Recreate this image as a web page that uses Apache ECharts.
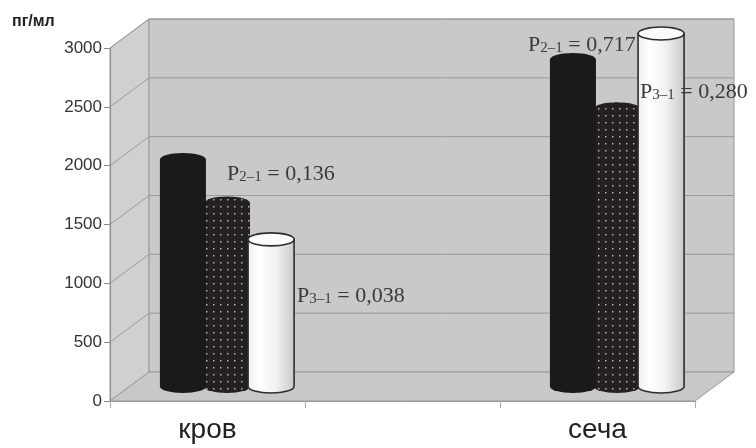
<!DOCTYPE html>
<html><head><meta charset="utf-8">
<script src="https://cdn.jsdelivr.net/npm/echarts@6/dist/echarts.min.js"></script>
<style>html,body{margin:0;padding:0;background:#fff}#c{width:756px;height:448px}</style>
</head><body><div id="c"></div>
<script>
// ---- data ----
const categories = ['кров', '', 'сеча'];
const seriesBlack = [1930, null, 2780];
const seriesDotted = [1560, null, 2360];
const seriesWhite = [1250, null, 3000];
const yTicks = [0, 500, 1000, 1500, 2000, 2500, 3000];
const unitLabel = 'пг/мл';
const annotationSubs = ['2–1', '3–1', '2–1', '3–1'];
const annotationValues = ['0,136', '0,038', '0,717', '0,280'];

// ---- geometry / style constants ----
const DX = 39, DY = -29;
const chart = echarts.init(document.getElementById('c'), null, {renderer: 'canvas'});

const pc = document.createElement('canvas');
pc.width = 7; pc.height = 7;
const g = pc.getContext('2d');
g.fillStyle = '#242020'; g.fillRect(0, 0, 7, 7);
g.fillStyle = '#b4b4b4'; g.fillRect(3, 3, 1.5, 1.5);
const dotPattern = {image: pc, repeat: 'repeat'};

function toData(arr) {
  const out = [];
  arr.forEach((v, i) => { if (v != null) out.push([i, v]); });
  return out;
}

function renderFrame(params, api) {
  const cs = params.coordSys;
  const x0 = cs.x, x1 = cs.x + cs.width;
  const yb = api.coord([0, yTicks[0]])[1];
  const yt = api.coord([0, yTicks[yTicks.length - 1]])[1];
  const edge = '#9a9a9a';
  const children = [
    {type: 'polygon', shape: {points: [[x0, yb], [x0, yt], [x0 + DX, yt + DY], [x0 + DX, yb + DY]]},
     style: {fill: '#d0d0d0', stroke: edge, lineWidth: 1}},
    {type: 'rect', shape: {x: x0 + DX, y: yt + DY, width: x1 - x0, height: yb - yt},
     style: {fill: '#c9c9c9', stroke: edge, lineWidth: 1}},
    {type: 'polygon', shape: {points: [[x0, yb], [x1, yb], [x1 + DX, yb + DY], [x0 + DX, yb + DY]]},
     style: {fill: '#c8c8c8', stroke: edge, lineWidth: 1}}
  ];
  yTicks.forEach(v => {
    if (v === yTicks[0]) return;
    const y = api.coord([0, v])[1];
    children.push({type: 'polyline', shape: {points: [[x0, y], [x0 + DX, y + DY], [x1 + DX, y + DY]]},
      style: {stroke: edge, lineWidth: 1, fill: null}});
  });
  return {type: 'group', children};
}

function cylinder(kind, idx) {
  return function (params, api) {
    const cat = api.value(0), v = api.value(1);
    const top = api.coord([cat, v]);
    const base = api.coord([cat, 0]);
    const band = api.size([1, 0])[0];
    const cx = top[0] + (idx - 1) * band * 0.226 + DX / 2;
    const rx = band * 0.118, ry = 6.5;
    const yt = top[1] + DY / 2, yb = base[1] + DY / 2;
    const path = 'M' + (cx - rx) + ',' + yt + ' L' + (cx - rx) + ',' + yb +
      ' A' + rx + ',' + ry + ' 0 0 0 ' + (cx + rx) + ',' + yb +
      ' L' + (cx + rx) + ',' + yt + ' Z';
    let bodyStyle, topStyle;
    if (kind === 'black') {
      bodyStyle = {fill: '#1c1919'};
      topStyle = {fill: '#1c1919'};
    } else if (kind === 'dotted') {
      bodyStyle = {fill: dotPattern};
      topStyle = {fill: dotPattern};
    } else {
      bodyStyle = {fill: {type: 'linear', x: 0, y: 0, x2: 1, y2: 0, colorStops: [
        {offset: 0, color: '#eeeeee'}, {offset: 0.25, color: '#ffffff'}, {offset: 0.6, color: '#f2f2f2'}, {offset: 1, color: '#c8c8c8'}]},
        stroke: '#2e2e2e', lineWidth: 1.6};
      topStyle = {fill: '#fbfbfb', stroke: '#2e2e2e', lineWidth: 1.6};
    }
    return {type: 'group', children: [
      {type: 'path', shape: {pathData: path}, style: bodyStyle},
      {type: 'ellipse', shape: {cx: cx, cy: yt, rx: rx, ry: ry}, style: topStyle}
    ]};
  };
}

const serif = '"Liberation Serif", "DejaVu Serif", serif';
const annPos = [[227, 174], [297, 296], [528, 45], [640, 92]];
const annGraphics = annotationValues.map((val, i) => ({
  type: 'text', x: annPos[i][0], y: annPos[i][1], z: 100,
  style: {
    text: '{p|P}{s|' + annotationSubs[i] + '}{p| = ' + val + '}',
    verticalAlign: 'middle', align: 'left',
    rich: {
      p: {fontSize: 22, fontFamily: serif, fill: '#3a3a3a', color: '#3a3a3a', lineHeight: 26, verticalAlign: 'middle'},
      s: {fontSize: 15, fontFamily: serif, fill: '#3a3a3a', color: '#3a3a3a', lineHeight: 15, padding: [7, 0, 0, 0]}
    }
  }
}));

const option = {
  animation: false,
  backgroundColor: '#ffffff',
  grid: {left: 110, right: 61, top: 48, bottom: 47, containLabel: false},
  xAxis: {
    type: 'category', data: categories, boundaryGap: true, z: 5,
    axisLine: {lineStyle: {color: '#999999', width: 1}},
    axisTick: {show: true, length: 7, lineStyle: {color: '#aaaaaa'}},
    axisLabel: {fontSize: 28, color: '#222222', margin: 15, fontFamily: '"Liberation Sans", Arial, sans-serif'},
    splitLine: {show: false}
  },
  yAxis: {
    type: 'value', min: 0, max: 3000, interval: 500, z: 5,
    axisLine: {show: true, lineStyle: {color: '#8a8a8a'}},
    axisTick: {show: true, length: 6, lineStyle: {color: '#8a8a8a'}},
    axisLabel: {fontSize: 17, color: '#333333', margin: 8, fontFamily: '"Liberation Sans", Arial, sans-serif',
      formatter: v => String(v)},
    splitLine: {show: false}
  },
  graphic: [
    {type: 'text', x: 12, y: 14, z: 100, style: {text: unitLabel, font: 'bold 16px "Liberation Sans", Arial, sans-serif', fill: '#222222'}}
  ].concat(annGraphics),
  series: [
    {type: 'custom', name: 'frame', z: 0, silent: true, renderItem: renderFrame, data: [[0, 0]]},
    {type: 'custom', name: '1', z: 3, renderItem: cylinder('black', 0), data: toData(seriesBlack)},
    {type: 'custom', name: '2', z: 2, renderItem: cylinder('dotted', 1), data: toData(seriesDotted)},
    {type: 'custom', name: '3', z: 4, renderItem: cylinder('white', 2), data: toData(seriesWhite)}
  ]
};
chart.setOption(option);
</script>
</body></html>
